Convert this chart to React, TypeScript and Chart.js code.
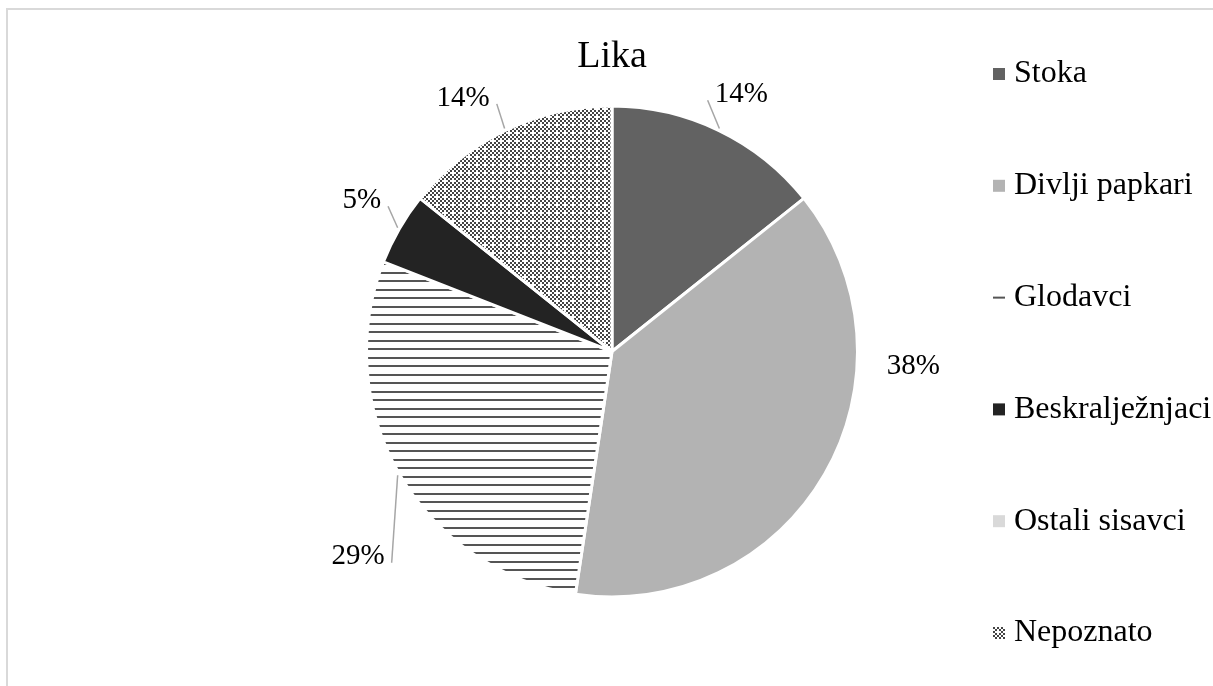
import React, { useEffect, useRef } from 'react';
import { Chart, registerables } from 'chart.js';

Chart.register(...registerables);

const chartTitle = 'Lika';
const categories = ['Stoka', 'Divlji papkari', 'Glodavci', 'Beskralježnjaci', 'Ostali sisavci', 'Nepoznato'];
const counts = [3, 8, 6, 1, 0, 3];

const FONT = "'Liberation Serif', 'Times New Roman', Times, serif";

// label placement: angle offset (deg) from slice middle, distance beyond the rim (px), leader line
const labelPlacement = [
  { dAngle: 0.6, out: 46, leader: true },
  { dAngle: -28, out: 56, leader: false },
  { dAngle: -8.4, out: 78.5, leader: true },
  { dAngle: 1.8, out: 49, leader: true },
  { dAngle: 0, out: 50, leader: false },
  { dAngle: -4.3, out: 52, leader: true },
];

function makeLinesPattern(ctx: CanvasRenderingContext2D) {
  const c = document.createElement('canvas');
  c.width = 4;
  c.height = 17;
  const g = c.getContext('2d')!;
  g.fillStyle = '#ffffff';
  g.fillRect(0, 0, 4, 17);
  g.fillStyle = '#555555';
  g.fillRect(0, 0, 4, 2);
  g.fillRect(0, 8, 4, 2);
  return ctx.createPattern(c, 'repeat')!;
}

function makeCheckerPattern(ctx: CanvasRenderingContext2D) {
  const c = document.createElement('canvas');
  c.width = 8;
  c.height = 8;
  const g = c.getContext('2d')!;
  g.fillStyle = '#ffffff';
  g.fillRect(0, 0, 8, 8);
  g.fillStyle = '#444444';
  for (let y = 0; y < 8; y += 2) {
    for (let x = 0; x < 8; x += 2) {
      if ((x / 2 + y / 2) % 2 === 0 && !(x === 4 && y === 4)) g.fillRect(x, y, 2, 2);
    }
  }
  return ctx.createPattern(c, 'repeat')!;
}

const pieLabelsPlugin = {
  id: 'pieLabels',
  afterDatasetsDraw(chart: any) {
    const ctx = chart.ctx as CanvasRenderingContext2D;
    const meta = chart.getDatasetMeta(0);
    const values = chart.data.datasets[0].data as number[];
    const total = values.reduce((a, b) => a + b, 0);
    ctx.save();
    ctx.font = `29px ${FONT}`;
    ctx.textAlign = 'center';
    ctx.textBaseline = 'middle';
    meta.data.forEach((arc: any, i: number) => {
      const v = values[i];
      if (!v) return;
      const { x, y, startAngle, endAngle, outerRadius } = arc.getProps(
        ['x', 'y', 'startAngle', 'endAngle', 'outerRadius'],
        true
      );
      const mid = (startAngle + endAngle) / 2;
      const p = labelPlacement[i];
      const a = mid + (p.dAngle * Math.PI) / 180;
      const r = outerRadius + p.out;
      const lx = x + Math.cos(a) * r;
      const ly = y + Math.sin(a) * r + 4;
      const text = Math.round((v / total) * 100) + '%';
      ctx.fillStyle = '#000000';
      ctx.fillText(text, lx, ly);
      if (p.leader) {
        const sx = x + Math.cos(mid) * (outerRadius + 2);
        const sy = y + Math.sin(mid) * (outerRadius + 2);
        const w = ctx.measureText(text).width;
        const ex = sx > lx ? lx + w / 2 + 7 : lx - w / 2 - 7;
        const ey = ly + 6;
        ctx.strokeStyle = '#a6a6a6';
        ctx.lineWidth = 1.5;
        ctx.beginPath();
        ctx.moveTo(sx, sy);
        ctx.lineTo(ex, ey);
        ctx.stroke();
      }
    });
    ctx.restore();
  },
};

const sideLegendPlugin = {
  id: 'sideLegend',
  afterDraw(chart: any, _args: any, opts: any) {
    const ctx = chart.ctx as CanvasRenderingContext2D;
    const fills = chart.data.datasets[0].backgroundColor as any[];
    ctx.save();
    ctx.font = `32px ${FONT}`;
    ctx.textAlign = 'left';
    ctx.textBaseline = 'middle';
    (chart.data.labels as string[]).forEach((lab, i) => {
      const cy = opts.top + i * opts.step;
      const bx = opts.boxX;
      const by = cy - opts.box / 2;
      const f = fills[i];
      if (f instanceof CanvasPattern) {
        f.setTransform(new DOMMatrix().translate(bx, by + (i === 2 ? 5 : 0)));
      }
      ctx.fillStyle = f;
      ctx.fillRect(bx, by, opts.box, opts.box);
      if (f instanceof CanvasPattern) f.setTransform(new DOMMatrix());
      ctx.fillStyle = '#000000';
      ctx.fillText(lab, opts.textX, cy);
    });
    ctx.restore();
  },
};

export default function App() {
  const ref = useRef<HTMLCanvasElement>(null);

  useEffect(() => {
    const canvas = ref.current!;
    const ctx = canvas.getContext('2d')!;
    const fills = [
      '#626262',
      '#b3b3b3',
      makeLinesPattern(ctx),
      '#232323',
      '#d9d9d9',
      makeCheckerPattern(ctx),
    ];
    const chart = new Chart(canvas, {
      type: 'pie',
      data: {
        labels: categories,
        datasets: [
          {
            data: counts,
            backgroundColor: fills as any,
            borderColor: '#ffffff',
            borderWidth: 3,
            radius: 245.5,
          } as any,
        ],
      },
      options: {
        responsive: false,
        animation: false,
        events: [],
        layout: { padding: { left: 211, right: 200, top: 0, bottom: 62.8 } },
        plugins: {
          legend: { display: false },
          tooltip: { enabled: false },
          title: {
            display: true,
            text: chartTitle,
            fullSize: false,
            color: '#000000',
            font: { family: FONT, size: 38, weight: 'normal' },
            padding: { top: 34.2, bottom: 0 },
          },
          sideLegend: { top: 74, step: 111.8, boxX: 993, box: 12, textX: 1014 },
        } as any,
      },
      plugins: [pieLabelsPlugin, sideLegendPlugin],
    });
    return () => chart.destroy();
  }, []);

  return (
    <div>
      <div
        style={{
          position: 'fixed',
          left: 6,
          top: 8,
          width: 1400,
          height: 900,
          borderLeft: '2px solid #d9d9d9',
          borderTop: '2px solid #d9d9d9',
          boxSizing: 'border-box',
        }}
      />
      <canvas
        ref={ref}
        width={1213}
        height={686}
        style={{ position: 'fixed', left: 0, top: 0, width: 1213, height: 686 }}
      />
    </div>
  );
}
